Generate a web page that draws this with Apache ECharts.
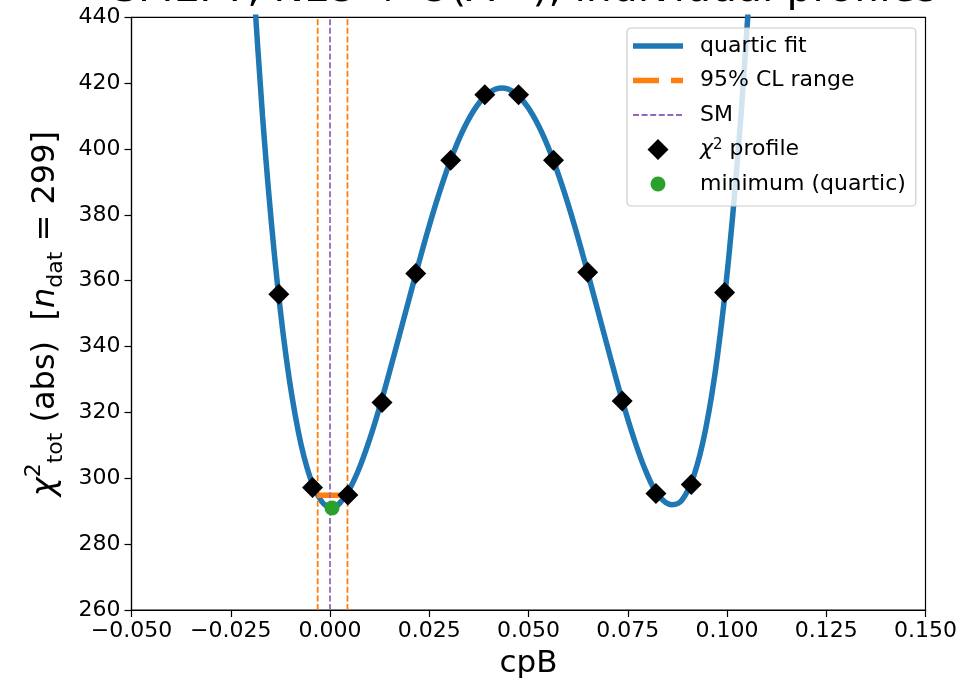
<!DOCTYPE html>
<html>
<head>
<meta charset="utf-8">
<script src="https://cdn.jsdelivr.net/npm/echarts@6/dist/echarts.min.js"></script>
<style>
  html, body { margin: 0; padding: 0; background: #fff; }
  #chart { width: 960px; height: 685px; }
</style>
</head>
<body>
<div id="chart"></div>
<script>
// χ² profile scan in cpB (points on the scan grid)
const scanX = [-0.0129, -0.0044, 0.0045, 0.0131, 0.0216, 0.0304, 0.0390, 0.0475, 0.0563, 0.0649, 0.0736, 0.0821, 0.0910, 0.0994];
const scanChi2 = [355.9, 297.2, 294.9, 323.0, 362.2, 396.6, 416.5, 416.5, 396.6, 362.6, 323.5, 295.4, 298.1, 356.4];

// quartic fit curve, sampled
const fitX = [-0.0200, -0.0170, -0.0140, -0.0110, -0.0080, -0.0050, -0.0020, 0.0005, 0.0040, 0.0070, 0.0100, 0.0130, 0.0160, 0.0190, 0.0220, 0.0250, 0.0280, 0.0310, 0.0340, 0.0370, 0.0400, 0.0433, 0.0466, 0.0496, 0.0526, 0.0556, 0.0586, 0.0616, 0.0646, 0.0676, 0.0706, 0.0736, 0.0766, 0.0796, 0.0826, 0.0861, 0.0886, 0.0916, 0.0946, 0.0976, 0.1006, 0.1036, 0.1066];
const fitChi2 = [464.5, 410.1, 367.9, 336.4, 314.3, 300.2, 292.8, 291.0, 294.9, 302.0, 311.9, 323.7, 336.8, 350.3, 363.8, 376.7, 388.4, 398.6, 406.9, 413.1, 417.0, 418.5, 417.0, 413.1, 406.9, 398.6, 388.4, 376.7, 363.8, 350.3, 336.8, 323.7, 311.9, 302.0, 295.0, 292.0, 293.3, 300.6, 314.8, 337.2, 369.0, 411.5, 466.0];

// 95% CL interval and the SM point
const clBounds = [-0.0031, 0.0044];
const clLevel = 294.84;
const smValue = 0.0;
const fitMin = [0.0005, 291.0];

// axis ranges
const xRange = [-0.05, 0.15];
const yRange = [260, 440];

const FONT = 'DejaVu Sans';
const C_BLUE = '#1f77b4', C_ORANGE = '#ff7f0e', C_PURPLE = '#9467bd', C_GREEN = '#2ca02c';

const chart = echarts.init(document.getElementById('chart'), null, { renderer: 'canvas' });

const fmtX = v => (v < 0 ? '\u2212' : '') + Math.abs(v).toFixed(3);

// vertical guide line spanning the full y range
const vLine = (name, x, color, dash) => ({
  name, type: 'line',
  data: [[x, yRange[0]], [x, yRange[1]]],
  symbol: 'none', showSymbol: false,
  lineStyle: { color, width: 1.8, type: dash },
  itemStyle: { color },
  silent: true,
  z: 3
});

// legend icons, each laid out in a 50x21 box; the empty corner sub-paths
// pin the bounds so every icon keeps its drawn size
const ICON_PAD = 'M0,0 L0,0 Z M50,21 L50,21 Z ';
const bar = (x0, x1, h) => `M${x0},${10.5 - h / 2} L${x1},${10.5 - h / 2} L${x1},${10.5 + h / 2} L${x0},${10.5 + h / 2} Z `;
const iconFit = 'path://' + ICON_PAD + bar(0, 50, 5.5);
const iconCL = 'path://' + ICON_PAD + bar(0, 26, 5.5) + bar(38, 50, 5.5);
const iconSM = 'path://' + ICON_PAD + [0, 8.6, 17.2, 25.8, 34.4, 43].map(s => bar(s, s + 6, 1.8)).join('');
const iconDiamond = 'path://' + ICON_PAD + 'M25,0 L35.5,10.5 L25,21 L14.5,10.5 Z';
const iconDot = 'path://' + ICON_PAD + 'M17.5,10.5 A7.5,7.5 0 1 1 32.5,10.5 A7.5,7.5 0 1 1 17.5,10.5 Z';

const option = {
  animation: false,
  backgroundColor: '#fff',
  title: {
    text: 'SMEFT, NLO + O(\u039b\u207b\u2074), individual profiles',
    left: 112,
    top: -30,
    padding: 0,
    textStyle: { fontFamily: FONT, fontSize: 41, fontWeight: 'normal', color: '#000' }
  },
  grid: {
    left: 131.5, right: 32, top: 17.3, bottom: 75,
    show: true, borderColor: '#000', borderWidth: 1.2, backgroundColor: 'transparent'
  },
  xAxis: {
    type: 'value',
    min: xRange[0], max: xRange[1], interval: 0.025,
    name: 'cpB', nameLocation: 'middle', nameGap: 38,
    nameTextStyle: { fontFamily: FONT, fontSize: 31, color: '#000' },
    axisLine: { show: true, onZero: false, lineStyle: { color: '#000', width: 1.2 } },
    axisTick: { show: true, inside: false, length: 7, lineStyle: { color: '#000', width: 1.2 } },
    axisLabel: { formatter: fmtX, fontFamily: FONT, fontSize: 22, color: '#000', margin: 10 },
    splitLine: { show: false }
  },
  yAxis: {
    type: 'value',
    min: yRange[0], max: yRange[1], interval: 20,
    name: '{chi|\u03c7}{sup|2}{sub|tot} (abs)  [{it|n}{sub|dat} = 299]',
    nameLocation: 'middle', nameRotate: 90, nameGap: 62,
    nameTextStyle: {
      fontFamily: FONT, fontSize: 32, color: '#000', lineHeight: 44,
      rich: {
        chi: { fontFamily: FONT, fontStyle: 'italic', fontSize: 32, color: '#000', lineHeight: 44, verticalAlign: 'middle' },
        it: { fontFamily: FONT, fontStyle: 'italic', fontSize: 32, color: '#000', lineHeight: 44, verticalAlign: 'middle' },
        sup: { fontFamily: FONT, fontSize: 22, color: '#000', lineHeight: 44, verticalAlign: 'top' },
        sub: { fontFamily: FONT, fontSize: 22, color: '#000', lineHeight: 44, verticalAlign: 'bottom' }
      }
    },
    axisLine: { show: true, onZero: false, lineStyle: { color: '#000', width: 1.2 } },
    axisTick: { show: true, inside: false, length: 7, lineStyle: { color: '#000', width: 1.2 } },
    axisLabel: { fontFamily: FONT, fontSize: 22, color: '#000', margin: 11 },
    splitLine: { show: false }
  },
  legend: {
    orient: 'vertical',
    left: 627, top: 28,
    zlevel: 1, z: 10,
    padding: [6, 10, 10, 6],
    itemWidth: 50, itemHeight: 21, itemGap: 10.5,
    symbolKeepAspect: true,
    backgroundColor: 'rgba(255,255,255,0.8)',
    borderColor: '#cccccc', borderWidth: 1.2, borderRadius: 4,
    selectedMode: false,
    data: [
      { name: 'quartic fit', icon: iconFit, itemStyle: { color: C_BLUE, borderWidth: 0 } },
      { name: '95% CL range', icon: iconCL, itemStyle: { color: C_ORANGE, borderWidth: 0 } },
      { name: 'SM', icon: iconSM, itemStyle: { color: C_PURPLE, borderWidth: 0 } },
      { name: 'chi2 profile', icon: iconDiamond, itemStyle: { color: '#000', borderWidth: 0 } },
      { name: 'minimum (quartic)', icon: iconDot, itemStyle: { color: C_GREEN, borderWidth: 0 } }
    ],
    formatter: n => n === 'chi2 profile' ? '{it|\u03c7}{sup|2}{t| profile}' : '{t|' + n + '}',
    textStyle: {
      fontFamily: FONT, fontSize: 22, color: '#000', lineHeight: 24, padding: [0, 0, 0, 12],
      rich: {
        t: { fontFamily: FONT, fontSize: 22, color: '#000', lineHeight: 24 },
        it: { fontFamily: FONT, fontStyle: 'italic', fontSize: 22, color: '#000', lineHeight: 24 },
        sup: { fontFamily: FONT, fontSize: 15, color: '#000', lineHeight: 24, verticalAlign: 'top' }
      }
    }
  },
  series: [
    {
      name: 'quartic fit',
      type: 'line',
      data: fitX.map((x, i) => [x, fitChi2[i]]),
      smooth: 0.35,
      symbol: 'none', showSymbol: false,
      lineStyle: { color: C_BLUE, width: 5.5 },
      itemStyle: { color: C_BLUE },
      clip: true,
      z: 2
    },
    vLine('CL lower', clBounds[0], C_ORANGE, [6, 2.6]),
    vLine('CL upper', clBounds[1], C_ORANGE, [6, 2.6]),
    {
      name: '95% CL range',
      type: 'line',
      data: [[clBounds[0], clLevel], [clBounds[1], clLevel]],
      symbol: 'none', showSymbol: false,
      lineStyle: { color: C_ORANGE, width: 5.5, type: [26, 12] },
      itemStyle: { color: C_ORANGE },
      z: 3
    },
    vLine('SM', smValue, C_PURPLE, [6, 2.6]),
    {
      name: 'chi2 profile',
      type: 'scatter',
      data: scanX.map((x, i) => [x, scanChi2[i]]),
      symbol: 'diamond', symbolSize: 21,
      itemStyle: { color: '#000', opacity: 1 },
      z: 4
    },
    {
      name: 'minimum (quartic)',
      type: 'scatter',
      data: [fitMin],
      symbol: 'circle', symbolSize: 15,
      itemStyle: { color: C_GREEN, opacity: 1 },
      z: 5
    }
  ]
};

chart.setOption(option);
</script>
</body>
</html>
